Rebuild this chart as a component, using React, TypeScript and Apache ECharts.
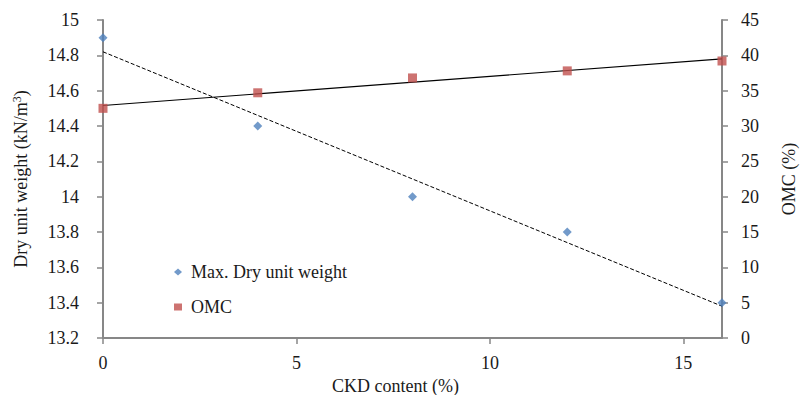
import React, { useEffect, useRef } from "react";
import * as echarts from "echarts";

const ckdContent = [0, 4, 8, 12, 16];
const maxDryUnitWeight = [14.9, 14.4, 14.0, 13.8, 13.4];
const omc = [32.5, 34.7, 36.8, 37.8, 39.2];

function linearFit(xs: number[], ys: number[]) {
  const n = xs.length;
  const mx = xs.reduce((a, b) => a + b, 0) / n;
  const my = ys.reduce((a, b) => a + b, 0) / n;
  let sxy = 0;
  let sxx = 0;
  for (let i = 0; i < n; i++) {
    sxy += (xs[i] - mx) * (ys[i] - my);
    sxx += (xs[i] - mx) * (xs[i] - mx);
  }
  const slope = sxy / sxx;
  const intercept = my - slope * mx;
  const x0 = Math.min(...xs);
  const x1 = Math.max(...xs);
  return [
    [x0, intercept + slope * x0],
    [x1, intercept + slope * x1],
  ];
}

const FONT = "Liberation Serif";
const FS = 18;
const AXIS_COLOR = "#878787";
const TEXT_COLOR = "#1a1a1a";

export default function App() {
  const ref = useRef<HTMLDivElement>(null);

  useEffect(() => {
    if (!ref.current) return;
    const chart = echarts.init(ref.current, undefined, { renderer: "svg" });
    const axisCommon = {
      axisLine: { show: true, lineStyle: { color: AXIS_COLOR, width: 2 } },
      axisTick: { show: true, inside: false, length: 6, lineStyle: { color: AXIS_COLOR, width: 1.5 } },
      splitLine: { show: false },
    };
    chart.setOption({
      animation: false,
      backgroundColor: "#ffffff",
      textStyle: { fontFamily: FONT, fontSize: FS },
      grid: {
        left: 103,
        right: 79,
        top: 20,
        bottom: 57,
        containLabel: false,
        outerBoundsMode: "none",
      },
      legend: {
        orient: "vertical",
        left: 169,
        top: 257,
        itemGap: 15,
        itemWidth: 8,
        itemHeight: 7,
        textStyle: {
          fontFamily: FONT,
          fontSize: FS,
          lineHeight: 20,
          color: TEXT_COLOR,
          padding: [0, 0, 0, 4],
        },
        data: [
          { name: "Max. Dry unit weight", icon: "diamond" },
          { name: "OMC", icon: "rect" },
        ],
      },
      xAxis: {
        type: "value",
        min: 0,
        max: 16,
        interval: 5,
        name: "CKD content (%)",
        nameLocation: "middle",
        nameGap: 38,
        nameTextStyle: {
          fontFamily: FONT,
          fontSize: FS,
          lineHeight: 18,
          color: TEXT_COLOR,
          padding: [0, 34, 0, 0],
        },
        ...axisCommon,
        axisLabel: {
          margin: 16,
          showMaxLabel: false,
          fontFamily: FONT,
          fontSize: FS,
          color: TEXT_COLOR,
        },
      },
      yAxis: [
        {
          type: "value",
          position: "left",
          min: 13.2,
          max: 15,
          interval: 0.2,
          name: "{a|Dry unit weight (kN/m}{s|3}{a|)}",
          nameLocation: "middle",
          nameGap: 72,
          nameRotate: 90,
          nameTextStyle: {
            fontFamily: FONT,
            fontSize: FS,
            color: TEXT_COLOR,
            rich: {
              a: { fontFamily: FONT, fontSize: FS, color: TEXT_COLOR },
              s: {
                fontFamily: FONT,
                fontSize: 12,
                color: TEXT_COLOR,
                verticalAlign: "top",
                padding: [0, 0, 8, 0],
              },
            },
          },
          ...axisCommon,
          axisLabel: {
            margin: 24,
            fontFamily: FONT,
            fontSize: FS,
            color: TEXT_COLOR,
            formatter: (v: number) => String(Math.round(v * 10) / 10),
          },
        },
        {
          type: "value",
          position: "right",
          min: 0,
          max: 45,
          interval: 5,
          name: "OMC (%)",
          nameLocation: "middle",
          nameGap: 58,
          nameRotate: 90,
          nameTextStyle: { fontFamily: FONT, fontSize: FS, color: TEXT_COLOR },
          ...axisCommon,
          axisLabel: {
            margin: 19,
            fontFamily: FONT,
            fontSize: FS,
            color: TEXT_COLOR,
          },
        },
      ],
      series: [
        {
          name: "Dry trend",
          type: "line",
          yAxisIndex: 0,
          data: linearFit(ckdContent, maxDryUnitWeight),
          showSymbol: false,
          symbol: "none",
          lineStyle: { color: "#000000", width: 1, type: [4, 2] },
          silent: true,
          z: 1,
        },
        {
          name: "OMC trend",
          type: "line",
          yAxisIndex: 1,
          data: linearFit(ckdContent, omc),
          showSymbol: false,
          symbol: "none",
          lineStyle: { color: "#000000", width: 1.2 },
          silent: true,
          z: 1,
        },
        {
          name: "Max. Dry unit weight",
          type: "scatter",
          yAxisIndex: 0,
          symbol: "diamond",
          symbolSize: [9, 9],
          itemStyle: { color: "#4F81BD" },
          data: ckdContent.map((x, i) => [x, maxDryUnitWeight[i]]),
          z: 3,
        },
        {
          name: "OMC",
          type: "scatter",
          yAxisIndex: 1,
          symbol: "rect",
          symbolSize: 9,
          itemStyle: { color: "#C0504D" },
          data: ckdContent.map((x, i) => [x, omc[i]]),
          z: 3,
        },
      ],
    });
    return () => chart.dispose();
  }, []);

  return (
    <div
      ref={ref}
      style={{ position: "fixed", left: 0, top: 0, width: 801, height: 395, background: "#fff" }}
    />
  );
}
